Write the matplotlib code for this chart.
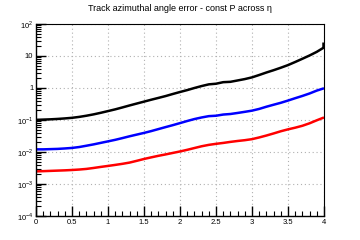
import numpy as np
import matplotlib
matplotlib.use("Agg")
import matplotlib.pyplot as plt
from matplotlib.ticker import FixedLocator, MultipleLocator, NullFormatter

# eta sample points 0..4 in steps of 0.1
eta = [round(0.1 * i, 1) for i in range(41)]

black_vals = [0.101, 0.103, 0.105, 0.108, 0.112, 0.117, 0.125, 0.136, 0.150, 0.168,
              0.190, 0.215, 0.247, 0.285, 0.327, 0.375, 0.430, 0.490, 0.560, 0.650,
              0.750, 0.860, 1.00, 1.15, 1.30, 1.36, 1.52, 1.56, 1.72, 1.90,
              2.15, 2.55, 3.05, 3.60, 4.30, 5.20, 6.50, 8.20, 10.4, 13.5, 18.5]
black_spike_eta = [3.985, 3.985]
black_spike_vals = [18.0, 28.0]
blue_vals = [0.0121, 0.0121, 0.0123, 0.0125, 0.0129, 0.0134, 0.0143, 0.0157, 0.0173, 0.0193,
             0.0215, 0.0240, 0.0272, 0.031, 0.035, 0.0395, 0.045, 0.052, 0.060, 0.069,
             0.080, 0.093, 0.107, 0.120, 0.132, 0.136, 0.148, 0.154, 0.166, 0.180,
             0.196, 0.222, 0.260, 0.300, 0.345, 0.405, 0.480, 0.565, 0.675, 0.830, 0.98]
red_vals = [0.00248, 0.00252, 0.00257, 0.00262, 0.00267, 0.00274, 0.00283, 0.00296, 0.00317, 0.00342,
            0.00367, 0.00395, 0.00427, 0.00467, 0.00530, 0.00605, 0.00680, 0.00760, 0.00840, 0.00935,
            0.0104, 0.0117, 0.0133, 0.0151, 0.0167, 0.0180, 0.0192, 0.0207, 0.0221, 0.0234,
            0.0252, 0.0285, 0.0327, 0.0380, 0.0445, 0.0510, 0.0575, 0.0660, 0.0790, 0.0980, 0.120]

x_ticks = [0, 0.5, 1, 1.5, 2, 2.5, 3, 3.5, 4]
x_labels = ["0", "0.5", "1", "1.5", "2", "2.5", "3", "3.5", "4"]
y_ticks = [1e-4, 1e-3, 1e-2, 1e-1, 1, 10, 100]
y_labels = ["$10^{-4}$", "$10^{-3}$", "$10^{-2}$", "$10^{-1}$", "1", "10", "$10^{2}$"]
title = "Track azimuthal angle error - const P across η"

plt.rcParams['font.family'] = ['Liberation Sans', 'DejaVu Sans']
plt.rcParams['mathtext.fontset'] = 'custom'
plt.rcParams['mathtext.rm'] = 'Liberation Sans'

fig = plt.figure(figsize=(3.6, 2.4), dpi=100)
ax = fig.add_axes([0.1, 0.1, 0.8, 0.8])

ax.plot(eta, black_vals, color='black', lw=1.8, solid_capstyle='butt')
ax.plot(black_spike_eta, black_spike_vals, color='black', lw=1.8, solid_capstyle='butt')
ax.plot(eta, blue_vals, color='#0000ff', lw=1.8, solid_capstyle='butt')
ax.plot(eta, red_vals, color='#ff0000', lw=1.8, solid_capstyle='butt')

ax.set_yscale('log')
ax.set_xlim(0, 4)
ax.set_ylim(1e-4, 100)

ax.xaxis.set_major_locator(FixedLocator(x_ticks))
ax.set_xticklabels(x_labels)
ax.xaxis.set_minor_locator(MultipleLocator(0.1))
ax.yaxis.set_major_locator(FixedLocator(y_ticks))
ax.set_yticklabels(y_labels)
minor_y = [m * 10.0 ** e for e in range(-4, 2) for m in range(2, 10)]
ax.yaxis.set_minor_locator(FixedLocator(minor_y))
ax.yaxis.set_minor_formatter(NullFormatter())

ax.tick_params(axis='both', which='major', direction='in', length=7, width=1,
               labelsize=5.5, pad=2, colors='black')
ax.tick_params(axis='both', which='minor', direction='in', length=3.5, width=0.8)
ax.tick_params(top=False, right=False)

ax.grid(True, which='major', color='#b0b0b0', linestyle=(0, (1, 2.5)), lw=0.8)

for s in ['left', 'bottom']:
    ax.spines[s].set_linewidth(1.0)
for s in ['top', 'right']:
    ax.spines[s].set_linestyle((0, (2, 1)))
    ax.spines[s].set_linewidth(0.8)

fig.text(0.5, 0.965, title, ha='center', va='center', fontsize=6.5)

fig.savefig('out.png', dpi=100)
